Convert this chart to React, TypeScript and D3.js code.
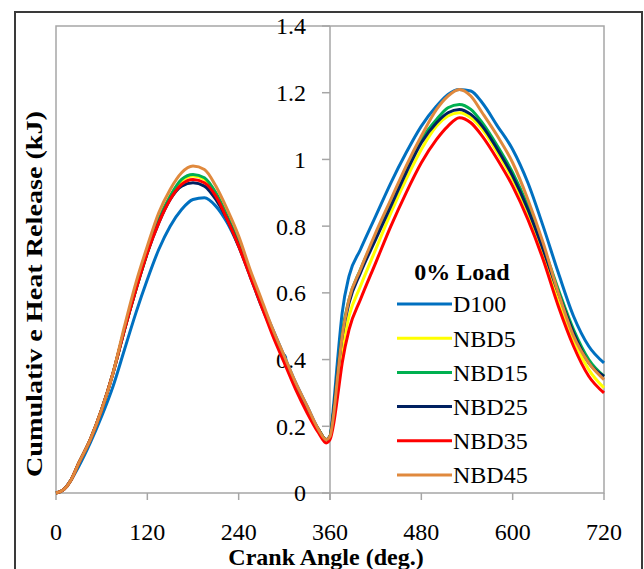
import React from "react";
import * as d3 from "d3";

const angles = [0,10,20,30,45,60,75,90,105,120,135,150,165,180,195,210,225,240,255,270,285,300,315,330,345,355,360,365,370,376,385,400,420,440,460,480,500,515,530,545,560,580,600,620,640,660,680,700,720];

const d100 = [0,0.01,0.04,0.08,0.15,0.23,0.32,0.43,0.54,0.64,0.73,0.8,0.85,0.88,0.885,0.86,0.81,0.74,0.66,0.57,0.49,0.41,0.33,0.26,0.19,0.16,0.17,0.27,0.4,0.54,0.65,0.73,0.83,0.93,1.02,1.1,1.16,1.195,1.21,1.205,1.17,1.1,1.03,0.93,0.8,0.66,0.53,0.44,0.39];
const nbd5 = [0,0.01,0.04,0.09,0.16,0.25,0.36,0.49,0.61,0.72,0.82,0.89,0.935,0.95,0.94,0.9,0.83,0.75,0.66,0.57,0.48,0.4,0.32,0.25,0.19,0.16,0.17,0.23,0.32,0.43,0.53,0.62,0.73,0.84,0.94,1.03,1.1,1.13,1.14,1.125,1.09,1.02,0.94,0.84,0.72,0.58,0.46,0.37,0.315];
const nbd15 = [0,0.01,0.04,0.09,0.16,0.25,0.36,0.49,0.61,0.72,0.82,0.89,0.94,0.955,0.945,0.9,0.83,0.75,0.66,0.57,0.48,0.4,0.32,0.25,0.19,0.16,0.17,0.25,0.36,0.48,0.58,0.67,0.77,0.87,0.97,1.06,1.12,1.155,1.165,1.15,1.11,1.04,0.96,0.86,0.74,0.61,0.49,0.4,0.35];
const nbd25 = [0,0.01,0.04,0.09,0.16,0.25,0.36,0.49,0.61,0.72,0.81,0.88,0.92,0.93,0.92,0.88,0.82,0.74,0.65,0.56,0.48,0.4,0.32,0.25,0.19,0.16,0.17,0.25,0.36,0.47,0.57,0.66,0.76,0.86,0.96,1.05,1.11,1.14,1.15,1.135,1.1,1.03,0.95,0.85,0.73,0.6,0.48,0.39,0.35];
const nbd35 = [0,0.01,0.04,0.09,0.16,0.25,0.36,0.49,0.61,0.72,0.81,0.88,0.925,0.94,0.93,0.89,0.82,0.74,0.65,0.56,0.47,0.39,0.31,0.24,0.18,0.15,0.16,0.21,0.29,0.39,0.49,0.58,0.69,0.8,0.9,0.99,1.06,1.1,1.125,1.11,1.07,1.0,0.92,0.82,0.7,0.56,0.44,0.35,0.3];
const nbd45 = [0,0.01,0.04,0.09,0.16,0.25,0.36,0.5,0.63,0.74,0.84,0.91,0.96,0.98,0.97,0.92,0.85,0.77,0.67,0.58,0.49,0.41,0.33,0.26,0.19,0.16,0.17,0.24,0.35,0.47,0.58,0.67,0.78,0.88,0.98,1.07,1.15,1.19,1.21,1.19,1.14,1.07,0.99,0.88,0.75,0.6,0.47,0.39,0.34];

const seriesNames = ["D100", "NBD5", "NBD15", "NBD25", "NBD35", "NBD45"];
const seriesValues = [d100, nbd5, nbd15, nbd25, nbd35, nbd45];
const seriesColors = ["#0070C0", "#FFFF00", "#00B050", "#002060", "#FF0000", "#E0893D"];

const xTicks = [0, 120, 240, 360, 480, 600, 720];
const yTicks = [0, 0.2, 0.4, 0.6, 0.8, 1, 1.2, 1.4];
const legendTitle = "0% Load";
const xTitle = "Crank Angle (deg.)";
const yTitle = "Cumulativ e Heat Release (kJ)";

export default function App() {
  const W = 644, H = 569;
  const left = 56, right = 604, top = 26, bottom = 493;
  const x = d3.scaleLinear().domain([0, 720]).range([left, right]);
  const y = d3.scaleLinear().domain([0, 1.4]).range([bottom, top]);
  const line = d3
    .line<number>()
    .x((_, i) => x(angles[i]))
    .y((v) => y(v))
    .curve(d3.curveMonotoneX);
  const axisX = x(360);
  const font = "'Liberation Serif', 'Times New Roman', serif";
  const gray = "#a6a6a6";
  const legX = 397;
  const legY0 = 304;
  const legStep = 34.2;

  return (
    <svg width={W} height={H} style={{ position: "absolute", left: 0, top: 0, background: "#fff" }} fontFamily={font}>
      <rect x={0} y={0} width={W} height={H} fill="#fff" />
      <rect x={15} y={12} width={627} height={600} fill="none" stroke="#3a3a3a" strokeWidth={2} />
      <rect x={left} y={top} width={right - left} height={bottom - top} fill="none" stroke={gray} strokeWidth={1.5} />
      <line x1={axisX} x2={axisX} y1={top} y2={bottom + 7} stroke={gray} strokeWidth={1.5} />
      {xTicks.map((t) => (
        <g key={t}>
          <line x1={x(t)} x2={x(t)} y1={bottom} y2={bottom + 7} stroke={gray} strokeWidth={1.5} />
          <text x={x(t)} y={540} textAnchor="middle" fontSize={24} fill="#000">{t}</text>
        </g>
      ))}
      {yTicks.map((t) => (
        <g key={t}>
          <line x1={axisX - 8} x2={axisX} y1={y(t)} y2={y(t)} stroke={gray} strokeWidth={1.5} />
          <text x={306} y={y(t)} dy="0.35em" textAnchor="end" fontSize={24} fill="#000">{String(t)}</text>
        </g>
      ))}
      {seriesValues.map((vals, i) => (
        <path key={seriesNames[i]} d={line(vals) || ""} fill="none" stroke={seriesColors[i]} strokeWidth={3} strokeLinejoin="round" />
      ))}
      <text x={462} y={280} textAnchor="middle" fontSize={24} fontWeight="bold" fill="#000">{legendTitle}</text>
      {seriesNames.map((n, i) => (
        <g key={n}>
          <line x1={legX} x2={legX + 55} y1={legY0 + i * legStep} y2={legY0 + i * legStep} stroke={seriesColors[i]} strokeWidth={3} />
          <text x={legX + 56} y={legY0 + i * legStep} dy="0.35em" fontSize={24} fill="#000">{n}</text>
        </g>
      ))}
      <text x={326} y={565} textAnchor="middle" fontSize={24} fontWeight="bold" fill="#000">{xTitle}</text>
      <text transform={`translate(42,294) rotate(-90)`} textAnchor="middle" fontSize={24} fontWeight="bold" fill="#000" textLength={366} lengthAdjust="spacingAndGlyphs">{yTitle}</text>
    </svg>
  );
}
